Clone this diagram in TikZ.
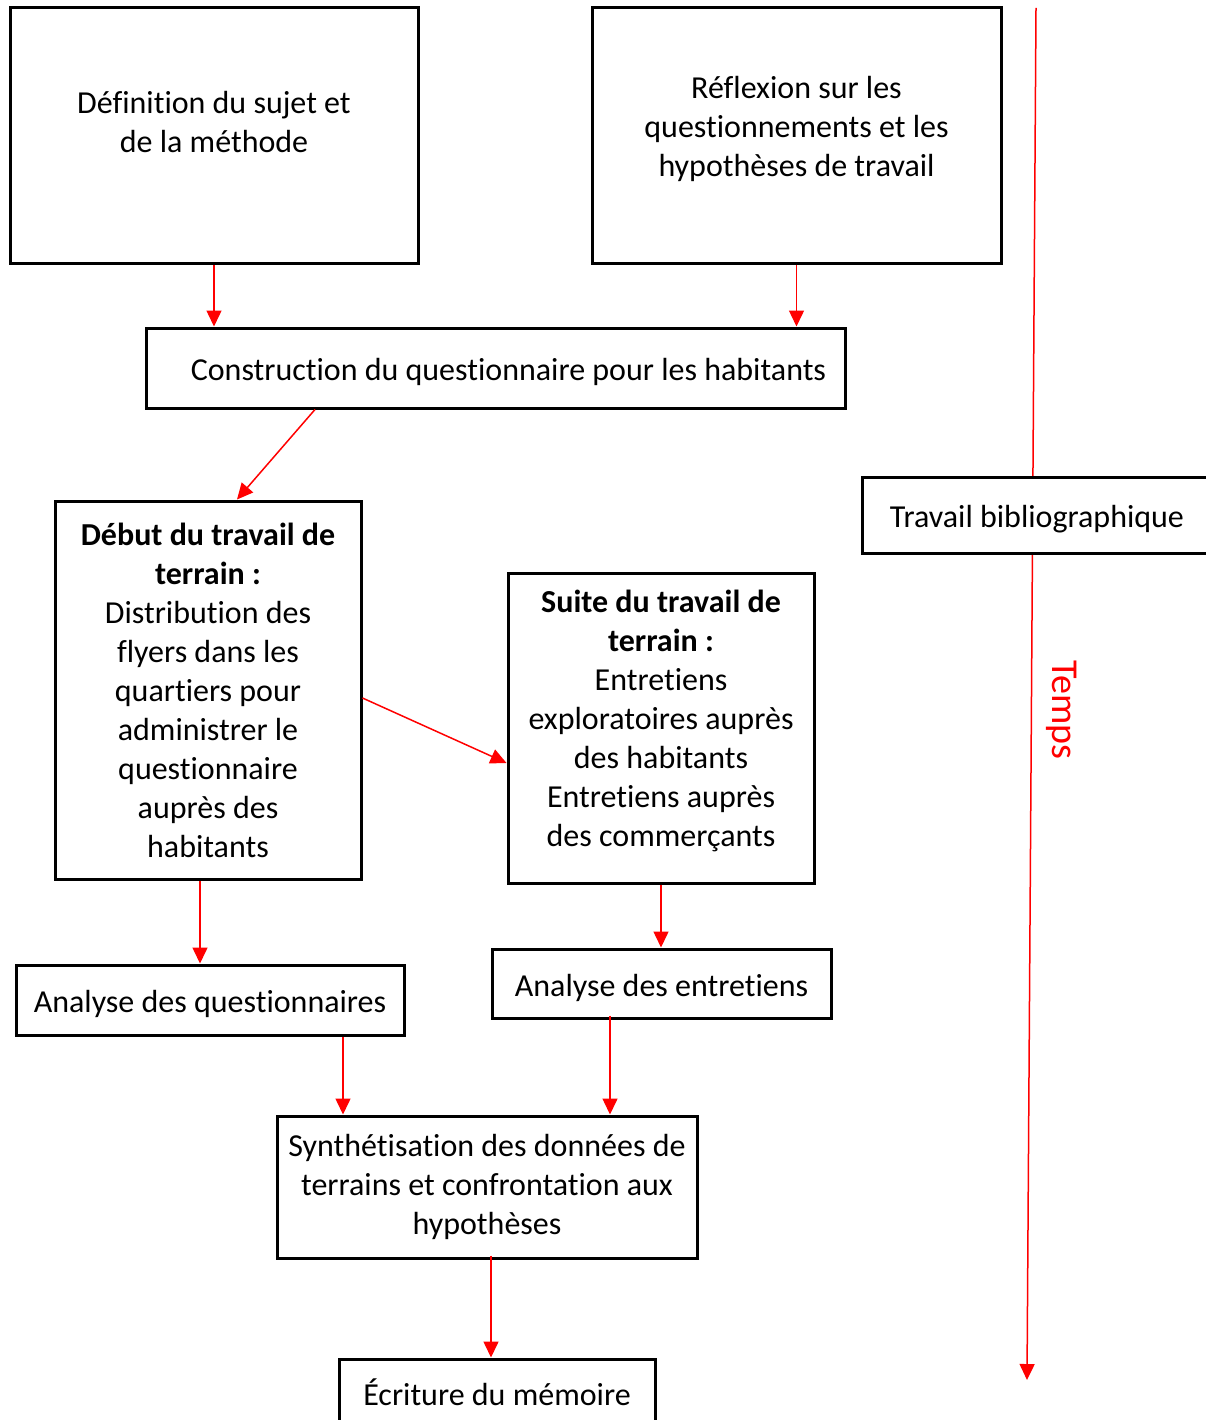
\documentclass[tikz,border=0pt]{standalone}
\usepackage{fontspec}
\setmainfont[Ligatures={NoCommon,NoContextual}]{Carlito}
\usetikzlibrary{arrows.meta}
\begin{document}
\begin{tikzpicture}[x=1pt, y=-1pt,
	main/.style = {draw, line width=3pt, fill=white, align=center, inner sep=0pt, font=\fontsize{32}{39}\selectfont},
	single/.style = {text height=32pt, text depth=6.5pt},
	flow/.style = {-{Triangle[width=15pt,length=16pt]}, red, line width=1.5pt}]
	\useasboundingbox (0,0) rectangle (1205,1420);
	
	%Time axis behind the bibliography box
	\coordinate (t0) at (1036,8);
	\coordinate (t1) at (1027,1380);
	\draw[flow] (t0) -- (t1);
	\node[red, rotate=-90, font=\fontsize{38}{46}\selectfont] (temps) at (1062,710) {Temps};
	
	%Top part
	\node[main, minimum width=408pt, minimum height=256pt] (1) at (214,136) {Définition du sujet et\\de la méthode\\[-10pt]};
	\node[main, minimum width=409pt, minimum height=256pt] (2) at (796.5,136) {Réflexion sur les\\questionnements et les\\hypothèses de travail\\[-20pt]};
	\node[main, single, minimum width=699pt, minimum height=80pt] (3) at (495.5,368) {\hspace*{26pt}Construction du questionnaire pour les habitants};
	
	%Field work
	\node[main, minimum width=306pt, minimum height=378pt] (4) at (208,690) {\textbf{Début du travail de}\\\textbf{terrain :}\\Distribution des\\flyers dans les\\quartiers pour\\administrer le\\questionnaire\\auprès des\\habitants};
	\node[main, minimum width=306pt, minimum height=310pt] (5) at (661,728) {\textbf{Suite du travail de}\\\textbf{terrain :}\\Entretiens\\exploratoires auprès\\des habitants\\Entretiens auprès\\des commerçants\\[-20pt]};
	
	%Analysis and writing
	\node[main, single, minimum width=388pt, minimum height=70pt] (6) at (210,1000) {Analyse des questionnaires};
	\node[main, single, minimum width=339pt, minimum height=69pt] (7) at (661.5,983.5) {Analyse des entretiens};
	\node[main, minimum width=420pt, minimum height=142pt] (8) at (487,1187) {Synthétisation des données de\\terrains et confrontation aux\\hypothèses};
	\node[main, minimum width=316pt, minimum height=66pt] (9) at (497,1392) {Écriture du mémoire};
	\node[main, single, minimum width=350pt, minimum height=76pt] (10) at (1037,515) {Travail bibliographique};
	
	%Edges
	\draw[flow] (1.south) -- (1.south |- 3.north); %Definition -> construction
	\draw[flow] (2.south) -- (2.south |- 3.north); %Reflexion -> construction
	\draw[flow] (3.south -| 315,0) -- (4.north -| 237,0); %Construction -> debut
	\draw[flow] (4.east |- 0,698) -- (5.west |- 0,763); %Debut -> suite
	\draw[flow] (4.south -| 200,0) -- (6.north -| 200,0); %Debut -> questionnaires
	\draw[flow] (5.south -| 661,0) -- (7.north -| 661,0); %Suite -> entretiens
	\draw[flow] (6.south -| 343,0) -- (8.north -| 343,0); %Questionnaires -> synthese
	\draw[flow] ([yshift=4pt]7.south -| 610,0) -- (8.north -| 610,0); %Entretiens -> synthese
	\draw[flow] ([yshift=4pt]8.south -| 491,0) -- (9.north -| 491,0); %Synthese -> ecriture
\end{tikzpicture}
\end{document}
